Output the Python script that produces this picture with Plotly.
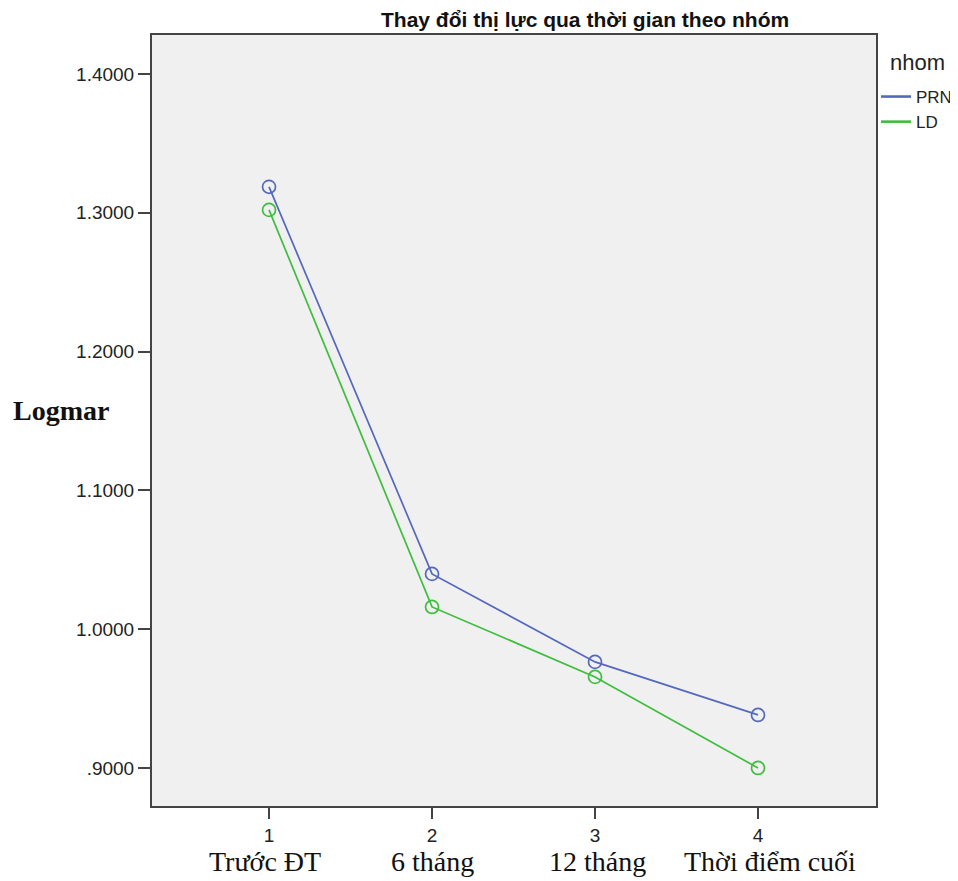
import plotly.graph_objects as go

time_points = [1, 2, 3, 4]
time_labels = ["Trước ĐT", "6 tháng", "12 tháng", "Thời điểm cuối"]
prn_values = [1.3186, 1.0398, 0.9764, 0.9382]
ld_values = [1.3020, 1.0160, 0.9656, 0.9000]
y_tickvals = [0.9, 1.0, 1.1, 1.2, 1.3, 1.4]
y_ticktext = [".9000", "1.0000", "1.1000", "1.2000", "1.3000", "1.4000"]

PRN_COLOR = "#5468BE"
LD_COLOR = "#3DBE3D"

W, H = 950, 873

fig = go.Figure()
for name, vals, col in [("PRN", prn_values, PRN_COLOR), ("LD", ld_values, LD_COLOR)]:
    fig.add_trace(go.Scatter(
        x=time_points, y=vals, mode="lines+markers", name=name,
        line=dict(color=col, width=1.7),
        marker=dict(symbol="circle-open", size=13, color=col, line=dict(width=1.7, color=col)),
        showlegend=False,
    ))
    fig.add_trace(go.Scatter(
        x=[None], y=[None], mode="lines", name=name,
        line=dict(color=col, width=2.6), showlegend=True,
    ))

label_shift = [-4, 0, 2, 12]
for xv, lab, sh in zip(time_points, time_labels, label_shift):
    fig.add_annotation(x=xv, y=0, xref="x", yref="paper", yanchor="top",
                       yshift=-38, xshift=sh, text=lab, showarrow=False,
                       font=dict(family="Liberation Serif", size=28, color="#111"))

fig.add_annotation(x=0.5, y=1, xref="paper", yref="paper", xshift=71,
                   yanchor="bottom", yshift=2,
                   text="<b>Thay đổi thị lực qua thời gian theo nhóm</b>",
                   showarrow=False, font=dict(family="Liberation Sans", size=21, color="#111"))

fig.add_annotation(x=0, y=0.5, xref="paper", yref="paper", xanchor="left",
                   xshift=-141, yshift=10, text="<b>Logmar</b>", showarrow=False,
                   font=dict(family="Liberation Serif", size=28, color="#111"))

fig.add_annotation(x=1, y=1, xref="paper", yref="paper", xanchor="left", yanchor="middle",
                   xshift=12, yshift=-27, text="nhom", showarrow=False,
                   font=dict(family="Liberation Sans", size=22, color="#222"))

fig.update_layout(
    width=W, height=H,
    margin=dict(l=144, r=82, t=27, b=75, autoexpand=False),
    paper_bgcolor="white", plot_bgcolor="#F0F0F0",
    font=dict(family="Liberation Sans", color="#222"),
    legend=dict(xref="container", yref="container",
                x=(876 - 8) / W, xanchor="left", y=1 - (79 - 8) / H, yanchor="top",
                font=dict(size=17, family="Liberation Sans"),
                bgcolor="rgba(0,0,0,0)", tracegroupgap=0, itemwidth=30),
    xaxis=dict(range=[0.282, 4.724], tickvals=time_points, ticktext=["1", "2", "3", "4"],
               showgrid=False, zeroline=False, showline=True, mirror=True,
               linecolor="#444", linewidth=2, ticks="outside", ticklen=11,
               tickcolor="#444", tickwidth=2, tickfont=dict(size=19, color="#222")),
    yaxis=dict(range=[0.8726, 1.428], tickvals=y_tickvals, ticktext=y_ticktext,
               showgrid=False, zeroline=False, showline=True, mirror=True,
               linecolor="#444", linewidth=2, ticks="outside", ticklen=12,
               tickcolor="#444", tickwidth=2, tickfont=dict(size=19, color="#222")),
)

fig.write_html("out.html")
